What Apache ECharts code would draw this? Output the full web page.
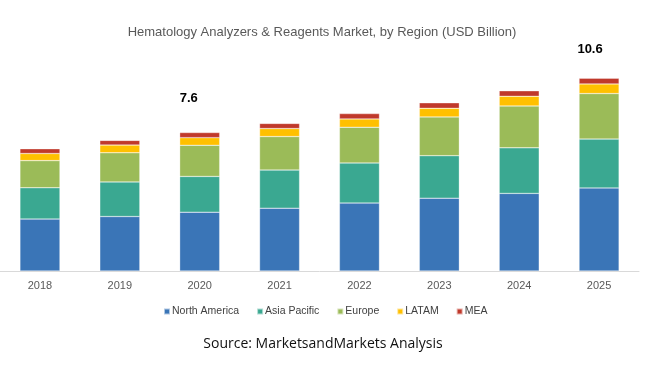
<!DOCTYPE html>
<html><head><meta charset="utf-8">
<script src="https://cdn.jsdelivr.net/npm/echarts@6/dist/echarts.min.js"></script>
<style>html,body{margin:0;padding:0;background:#fff}#c{width:650px;height:374px}</style>
</head><body><div id="c"></div>
<script>
const years = ['2018','2019','2020','2021','2022','2023','2024','2025'];
const northAmerica = [2.85, 2.99, 3.23, 3.45, 3.73, 4.00, 4.26, 4.56];
const asiaPacific  = [1.72, 1.90, 1.96, 2.09, 2.20, 2.33, 2.50, 2.68];
const europe       = [1.49, 1.60, 1.71, 1.84, 1.96, 2.13, 2.30, 2.50];
const latam        = [0.39, 0.42, 0.42, 0.44, 0.46, 0.47, 0.53, 0.53];
const mea          = [0.26, 0.26, 0.28, 0.28, 0.29, 0.30, 0.30, 0.31];
const totalLabels  = ['', '', '7.6', '', '', '', '', '10.6'];

const chart = echarts.init(document.getElementById('c'));
const colors = ['#3a75b7', '#3aa891', '#9bbb58', '#ffc000', '#c0392b'];
const names = ['North America', 'Asia Pacific', 'Europe', 'LATAM', 'MEA'];
const data = [northAmerica, asiaPacific, europe, latam, mea];
const labelOffsets = {2: [-11, -23], 7: [-9, -17]};

const series = names.map((n, i) => ({
  name: n, type: 'bar', stack: 'total', barWidth: 40,
  itemStyle: {color: colors[i], borderColor: 'rgba(255,255,255,0.6)', borderWidth: 0.5},
  data: data[i].map((v, j) => {
    if (i === 4 && totalLabels[j]) {
      return {value: v, label: {show: true, position: 'top', formatter: totalLabels[j],
        offset: labelOffsets[j], color: '#000', fontWeight: 'bold', fontSize: 13,
        fontFamily: 'Liberation Sans'}};
    }
    return v;
  })
}));

chart.setOption({
  animation: false,
  backgroundColor: '#fff',
  color: colors,
  title: [{
    text: 'Hematology Analyzers & Reagents Market, by Region (USD Billion)',
    left: 317, top: 21, textAlign: 'center',
    textStyle: {fontSize: 13, fontWeight: 'normal', color: '#595959', fontFamily: 'Liberation Sans'}
  }, {
    text: 'Source: MarketsandMarkets Analysis',
    left: 318, top: 332, textAlign: 'center',
    textStyle: {fontSize: 14, fontWeight: 'normal', color: '#111', fontFamily: 'Open Sans'}
  }],
  legend: {
    top: 301, left: 158, itemWidth: 6, itemHeight: 6, itemGap: 17,
    icon: 'rect',
    textStyle: {fontSize: 10.5, color: '#404040', fontFamily: 'Liberation Sans', padding: [0, 0, 0, -3]},
    data: names
  },
  grid: {left: -4, right: 11, top: 40, bottom: 103, containLabel: false},
  xAxis: {
    type: 'category', data: years,
    axisLine: {lineStyle: {color: '#d9d9d9'}},
    axisTick: {show: false},
    axisLabel: {color: '#595959', fontSize: 11, margin: 9, fontFamily: 'Liberation Sans'}
  },
  yAxis: {type: 'value', min: 0, max: 12.68, show: false, splitLine: {show: false}},
  series: series
});
</script></body></html>
